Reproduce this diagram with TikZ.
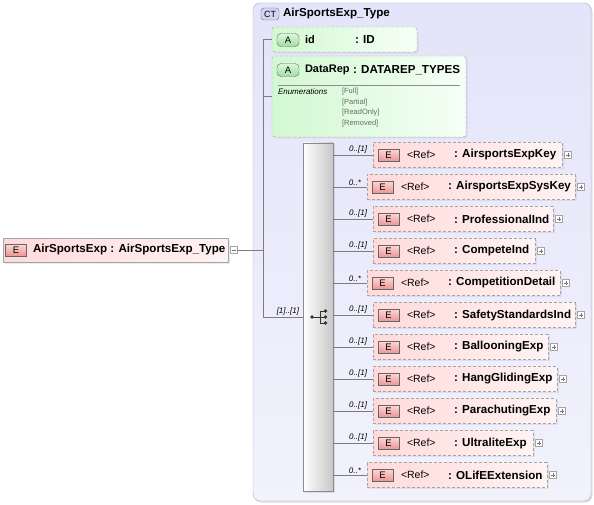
\documentclass[tikz,border=0pt]{standalone}
\usepackage{fontspec}
\setmainfont{Liberation Sans}
\usetikzlibrary{positioning,shadows}

\definecolor{ctfillA}{RGB}{228,228,250}
\definecolor{ctfillB}{RGB}{242,242,253}
\definecolor{ctline}{RGB}{170,170,190}
\definecolor{elpink}{RGB}{255,218,218}
\definecolor{elpale}{RGB}{255,243,243}
\definecolor{attgreen}{RGB}{210,248,210}
\definecolor{attpale}{RGB}{246,255,246}
\definecolor{boxline}{RGB}{165,165,165}
\definecolor{ebadgeA}{RGB}{236,150,150}
\definecolor{ebadgeB}{RGB}{255,215,215}
\definecolor{abadgeA}{RGB}{160,220,160}
\definecolor{abadgeB}{RGB}{220,248,220}
\definecolor{ctbadge}{RGB}{212,212,245}
\definecolor{wire}{RGB}{125,125,125}
\definecolor{enumgray}{RGB}{105,105,105}

\begin{document}
\begin{tikzpicture}[x=1pt, y=-1pt,
  every node/.style={inner sep=0pt, outer sep=0pt},
  ctbox/.style={draw=ctline, rounded corners=7pt, top color=ctfillA, bottom color=ctfillB, anchor=north west,
    drop shadow={shadow xshift=1.5pt, shadow yshift=-1.5pt, opacity=.25}},
  elbox/.style={draw=boxline, dash pattern=on 3pt off 2pt, left color=elpink, right color=elpale, anchor=west,
    minimum height=25pt, drop shadow={shadow xshift=1.5pt, shadow yshift=-1.5pt, opacity=.15}},
  attbox/.style={draw=boxline, dash pattern=on 3pt off 2pt, rounded corners=3pt, left color=attgreen, right color=attpale,
    anchor=north west, drop shadow={shadow xshift=1.5pt, shadow yshift=-1.5pt, opacity=.15}},
  ebadge/.style={draw=black!60, top color=ebadgeB, bottom color=ebadgeA, minimum width=21pt, minimum height=12pt,
    font=\fontsize{9.5}{9.5}\selectfont},
  abadge/.style={draw=black!60, rounded corners=4pt, top color=abadgeB, bottom color=abadgeA, minimum width=22pt,
    minimum height=13pt, font=\fontsize{9.5}{9.5}\selectfont},
  plusbox/.style={draw=boxline, fill=white, minimum size=7pt,
    path picture={\draw[black!55, line width=.4pt]
      ([xshift=1.5pt]path picture bounding box.west) -- ([xshift=-1.5pt]path picture bounding box.east);
      \draw[black!55, line width=.4pt]
      ([yshift=-1.5pt]path picture bounding box.north) -- ([yshift=1.5pt]path picture bounding box.south);}},
  minusbox/.style={draw=boxline, fill=white, minimum size=7pt,
    path picture={\draw[black!55, line width=.4pt]
      ([xshift=1.5pt]path picture bounding box.west) -- ([xshift=-1.5pt]path picture bounding box.east);}},
  mult/.style={font=\fontsize{8}{8}\selectfont\itshape},
  bold/.style={font=\fontsize{11.6}{11.6}\selectfont\bfseries},
  attname/.style={font=\fontsize{11}{11}\selectfont\bfseries},
  plain/.style={font=\fontsize{10.5}{10.5}\selectfont}
]
\useasboundingbox (0,0) rectangle (594,505);

% complex type frame
\node[ctbox, minimum width=338pt, minimum height=498pt] (ct) at (253,3) {};
\node[draw=black!55, rounded corners=3pt, fill=ctbadge, minimum width=18pt, minimum height=12pt,
  font=\fontsize{9}{9}\selectfont] (ctb) at (270,14) {CT};
\node[bold, anchor=west] (ctname) at (283,14) {AirSportsExp\_Type};

% attributes
\node[attbox, minimum width=145pt, minimum height=25pt] (id) at (272,27) {};
\node[abadge] (ida) at (288,40) {A};
\node[attname, anchor=west] (idn) at (305,40) {id};
\node[bold, anchor=west] (idt) at (355,40) {: ID};

\node[attbox, minimum width=194pt, minimum height=81pt] (drep) at (272,56) {};
\node[abadge] (dra) at (288,70) {A};
\node[attname, anchor=west] (drn) at (305,70) {DataRep};
\node[bold, anchor=west] (drt) at (353,70) {: DATAREP\_TYPES};
\draw[black!45] (278,85) -- (460,85);
\node[mult, anchor=west] (enl) at (278,91.5) {Enumerations};
\foreach \v [count=\k] in {Full,Partial,ReadOnly,Removed}
  \node[anchor=west, text=enumgray, font=\fontsize{7.5}{7.5}\selectfont] (en\k) at (342,80.5+10.8*\k) {[\v]};

% top element
\node[draw=boxline, left color=elpink, right color=elpale, anchor=north west, minimum width=225pt, minimum height=24pt,
  drop shadow={shadow xshift=1.5pt, shadow yshift=-1.5pt, opacity=.15}] (main) at (3,238) {};
\node[ebadge] (maine) at (16,250) {E};
\node[bold, anchor=west] (mainn) at (33,250) {AirSportsExp : AirSportsExp\_Type};
\node[minusbox] (mainm) at (233.5,250) {};

% sequence
\node[draw=black!45, left color=white, right color=black!22, anchor=north west, minimum width=30pt, minimum height=348pt,
  drop shadow={shadow xshift=1.5pt, shadow yshift=-1.5pt, opacity=.2}] (seq) at (303,143) {};
\coordinate (ic) at (320,317);
\fill[black!80] (312,317) circle (1.8pt);
\draw[black!80] (312,317) -- (ic);
\draw[black!80] (320,311) -- (320,323);
\foreach \dy in {311,317,323} {
  \draw[black!80] (320,\dy) -- (325.5,\dy);
  \fill[black!80] (325.5,\dy) circle (1.9pt);
}

% trunk
\coordinate (trunk) at (263,0);
\draw[wire] (trunk |- id.west) -- (trunk |- seq.west);
\draw[wire] (mainm.east) -- (trunk |- mainm.east);
\draw[wire] (trunk |- id.west) -- (id.west);
\draw[wire] (trunk |- drep.west) -- (drep.west);
\draw[wire] (trunk |- seq.west) -- (seq.west);
\node[mult, anchor=south east] (seqm) at ([xshift=-4pt, yshift=2pt]seq.west) {[1]..[1]};

% referenced children
\foreach \i/\nm/\lx/\w/\m in {
  1/AirsportsExpKey/373/189/{0..[1]},
  2/AirsportsExpSysKey/367/208/{0..*},
  3/ProfessionalInd/373/180/{0..[1]},
  4/CompeteInd/373/162/{0..[1]},
  5/CompetitionDetail/367/193/{0..*},
  6/SafetyStandardsInd/373/202/{0..[1]},
  7/BallooningExp/373/175/{0..[1]},
  8/HangGlidingExp/373/184/{0..[1]},
  9/ParachutingExp/373/183/{0..[1]},
  10/UltraliteExp/373/160/{0..[1]},
  11/OLifEExtension/367/180/{0..*}} {
  \pgfmathsetmacro\yy{155+32*(\i-1)}
  \node[elbox, minimum width=\w pt] (c\i) at (\lx,\yy) {};
  \node[ebadge] (ce\i) at ([xshift=15.5pt]c\i.west) {E};
  \node[plain, anchor=west] (cr\i) at ([xshift=34pt]c\i.west) {<Ref>};
  \node[bold, anchor=west] (cn\i) at ([xshift=81pt]c\i.west) {: \nm};
  \node[plusbox] (cp\i) at ([xshift=6pt]c\i.east) {};
  \draw[wire] (seq.east |- c\i.west) -- (c\i.west);
  \node[mult, anchor=south east] (cm\i) at ([xshift=-6pt, yshift=1.5pt]c\i.west) {\m};
}
\end{tikzpicture}
\end{document}
